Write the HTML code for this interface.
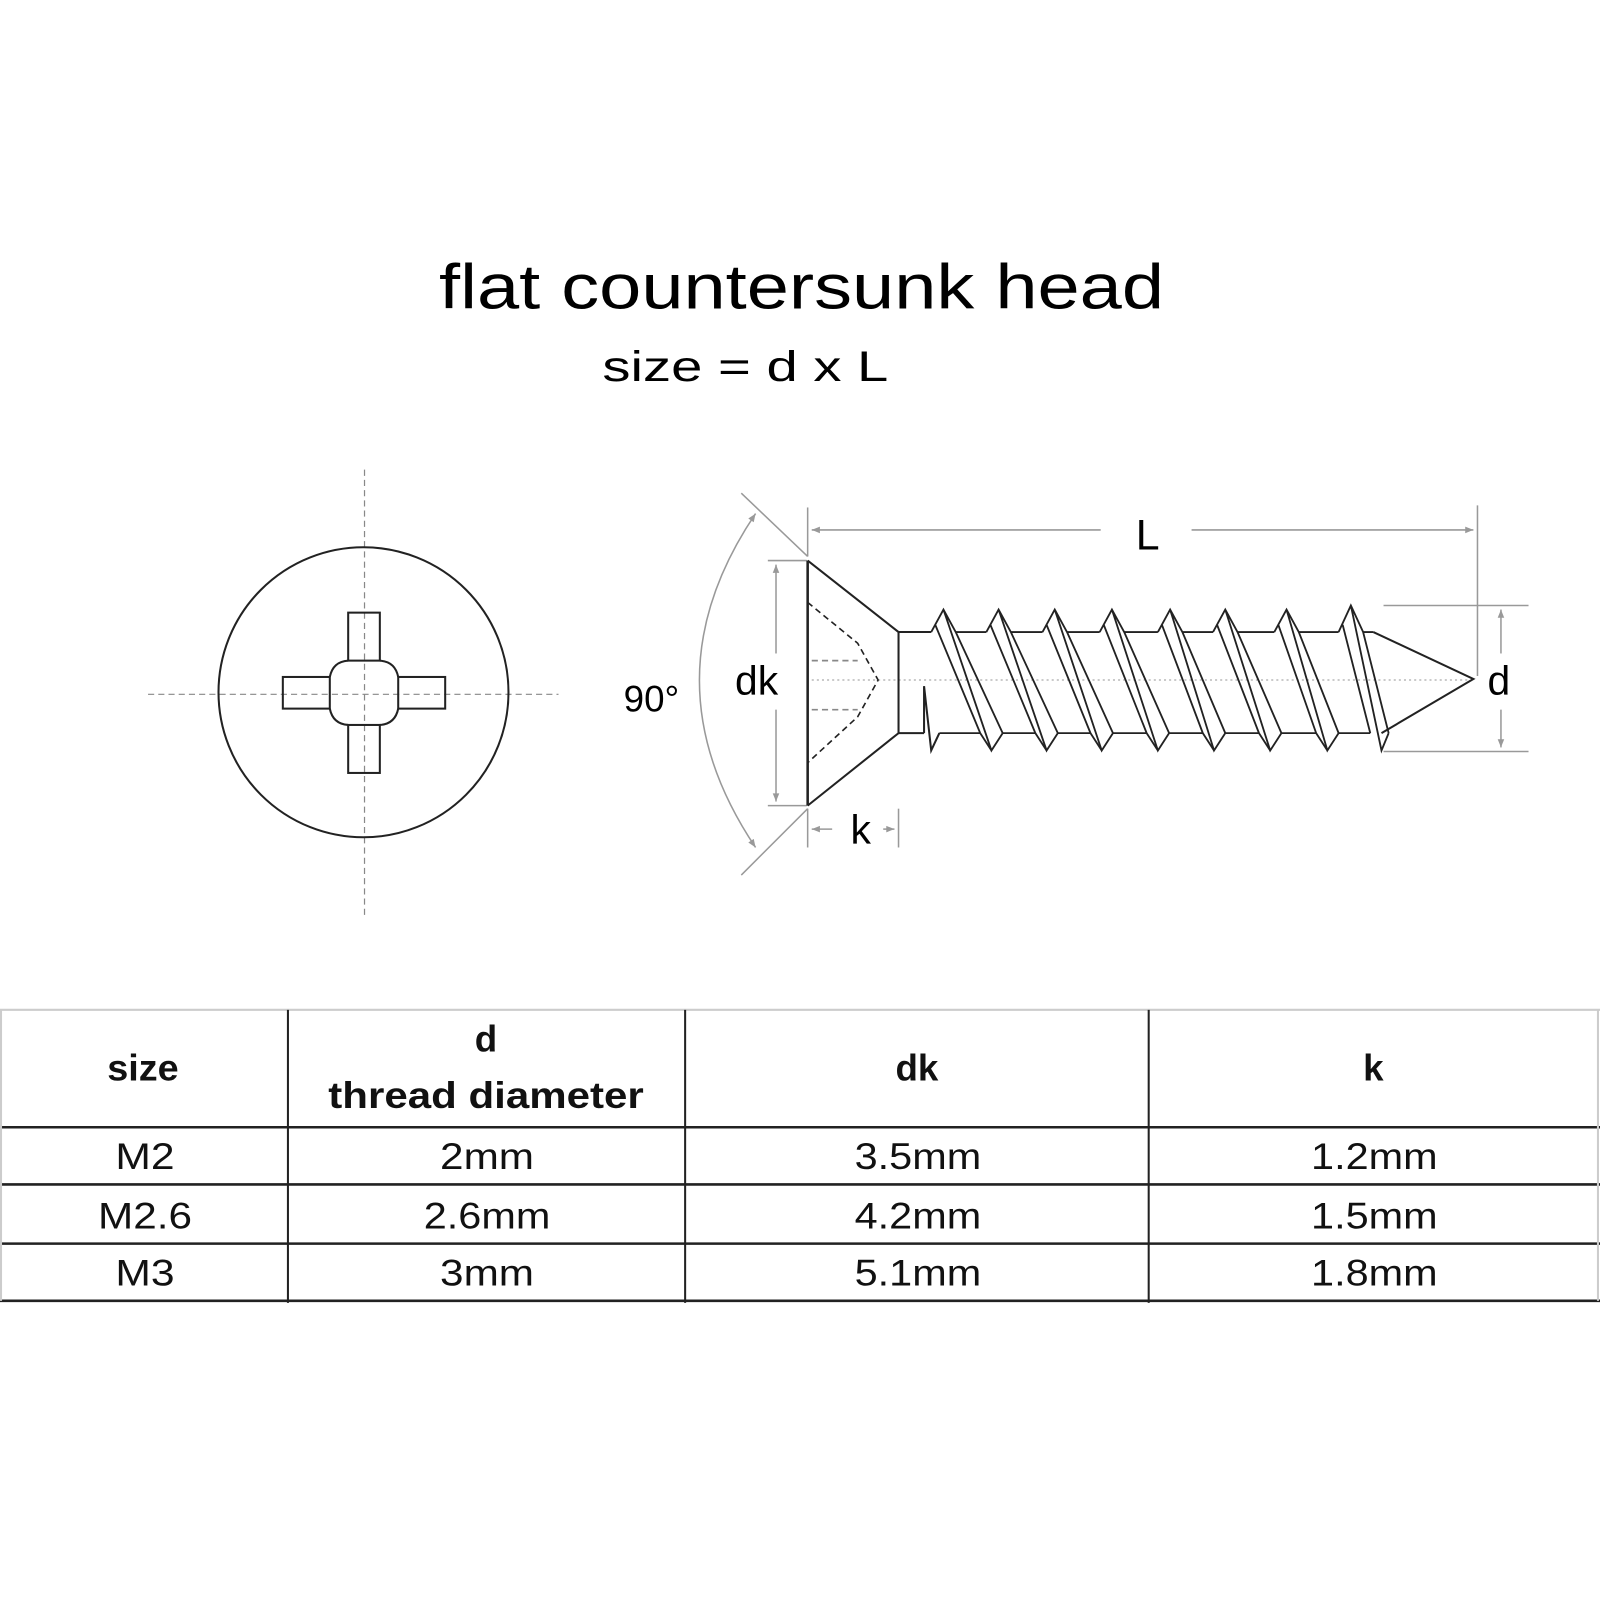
<!DOCTYPE html>
<html><head><meta charset="utf-8"><style>html,body{margin:0;padding:0;background:#fff}svg{display:block}</style></head>
<body>
<svg width="1600" height="1600" viewBox="0 0 1567 1567" xmlns="http://www.w3.org/2000/svg" font-family="Liberation Sans, sans-serif">
<defs>
<marker id="ar" viewBox="0 0 10 10" refX="10" refY="5" markerWidth="12" markerHeight="8" orient="auto-start-reverse" markerUnits="userSpaceOnUse"><path d="M0,1 L10,5 L0,9 Z" fill="#999"/></marker>
</defs>
<text x="785" y="302" font-size="62" text-anchor="middle" textLength="710" lengthAdjust="spacingAndGlyphs">flat countersunk head</text>
<text x="730" y="373" font-size="42" text-anchor="middle" textLength="280" lengthAdjust="spacingAndGlyphs">size = d x L</text>

<g stroke="#888" stroke-width="1.2" stroke-dasharray="6,4" fill="none">
<line x1="145" y1="680" x2="547" y2="680"/>
<line x1="357" y1="460" x2="357" y2="897"/>
</g>
<circle cx="356" cy="678" r="142" fill="none" stroke="#222" stroke-width="2"/>
<g fill="none" stroke="#222" stroke-width="2">
<rect x="341" y="600" width="31" height="47"/>
<rect x="341" y="710" width="31" height="47"/>
<rect x="277" y="663" width="46" height="31"/>
<rect x="390" y="663" width="46" height="31"/>
<path d="M341,647 Q326,648 323,663 M372,647 Q387,648 390,663 M341,710 Q326,709 323,694 M372,710 Q387,709 390,694"/>
</g>

<g stroke="#999" stroke-width="1.5" fill="none">
<line x1="791" y1="497" x2="791" y2="545"/>
<line x1="1447" y1="495" x2="1447" y2="662"/>
<line x1="795" y1="519" x2="1078" y2="519" marker-start="url(#ar)"/>
<line x1="1167" y1="519" x2="1443" y2="519" marker-end="url(#ar)"/>
<line x1="752" y1="549" x2="790" y2="549"/>
<line x1="752" y1="789" x2="790" y2="789"/>
<line x1="760" y1="553" x2="760" y2="640" marker-start="url(#ar)"/>
<line x1="760" y1="695" x2="760" y2="785" marker-end="url(#ar)"/>
<line x1="1355" y1="593" x2="1497" y2="593"/>
<line x1="1355" y1="736" x2="1497" y2="736"/>
<line x1="1470" y1="597" x2="1470" y2="640" marker-start="url(#ar)"/>
<line x1="1470" y1="695" x2="1470" y2="732" marker-end="url(#ar)"/>
<line x1="791" y1="792" x2="791" y2="830"/>
<line x1="880" y1="792" x2="880" y2="830"/>
<line x1="795" y1="812" x2="815" y2="812" marker-start="url(#ar)"/>
<line x1="865" y1="812" x2="876" y2="812" marker-end="url(#ar)"/>
<line x1="726" y1="483" x2="791" y2="545"/>
<line x1="726" y1="857" x2="791" y2="792"/>
<path d="M740,503 Q630,666 740,830" marker-start="url(#ar)" marker-end="url(#ar)"/>
</g>
<line x1="795" y1="666" x2="1440" y2="666" stroke="#aaa" stroke-width="1.2" stroke-dasharray="2,3"/>
<g stroke="#222" stroke-width="1.6" fill="none" stroke-dasharray="6,4">
<path d="M791,590 L840,630 L860,666 L840,702 L791,747"/>
<line x1="795" y1="647" x2="840" y2="647" stroke="#888"/>
<line x1="795" y1="695" x2="840" y2="695" stroke="#888"/>
</g>
<g stroke="#222" stroke-width="2" fill="none" stroke-linejoin="miter">
<line x1="791" y1="549" x2="791" y2="789" stroke-width="2.5"/>
<path d="M791,549 L880,619 L880,718 L791,789"/>
<line x1="880" y1="619" x2="912" y2="619"/>
<line x1="880" y1="718" x2="905" y2="718"/>
<path d="M905,672 L912,735 L920,718 M905,672 L905,718"/>
<path d="M1345,619 L1443,665 L1353,718"/>
</g>
<text x="1124" y="538" font-size="42" text-anchor="middle">L</text>
<text x="741" y="680" font-size="40" text-anchor="middle">dk</text>
<text x="1468" y="680" font-size="40" text-anchor="middle">d</text>
<text x="843" y="826" font-size="40" text-anchor="middle">k</text>
<text x="638" y="697" font-size="36" text-anchor="middle">90°</text>

<g stroke="#222" fill="none">
<line x1="0" y1="989" x2="1567" y2="989" stroke="#ccc" stroke-width="2"/>
<line x1="0" y1="1104" x2="1567" y2="1104" stroke-width="2.5"/>
<line x1="0" y1="1160" x2="1567" y2="1160" stroke-width="2.5"/>
<line x1="0" y1="1218" x2="1567" y2="1218" stroke-width="2.5"/>
<line x1="0" y1="1274" x2="1567" y2="1274" stroke-width="2.5"/>
<line x1="1" y1="989" x2="1" y2="1274" stroke="#ccc" stroke-width="2"/>
<line x1="1565" y1="989" x2="1565" y2="1274" stroke="#ccc" stroke-width="2"/>
<line x1="282" y1="989" x2="282" y2="1276" stroke-width="2"/>
<line x1="671" y1="989" x2="671" y2="1276" stroke-width="2"/>
<line x1="1125" y1="989" x2="1125" y2="1276" stroke-width="2"/>
</g>
<g font-family="Liberation Sans Narrow, Liberation Sans, sans-serif" text-anchor="middle" fill="#111">
<g font-weight="bold" font-size="36">
<text x="140" y="1058" textLength="70" lengthAdjust="spacingAndGlyphs">size</text>
<text x="476" y="1030">d</text>
<text x="476" y="1085" textLength="309" lengthAdjust="spacingAndGlyphs">thread diameter</text>
<text x="898" y="1058">dk</text>
<text x="1345" y="1058">k</text>
</g>
<g font-size="36">
<text x="142" y="1145" textLength="58" lengthAdjust="spacingAndGlyphs">M2</text>
<text x="477" y="1145" textLength="92" lengthAdjust="spacingAndGlyphs">2mm</text>
<text x="899" y="1145" textLength="124" lengthAdjust="spacingAndGlyphs">3.5mm</text>
<text x="1346" y="1145" textLength="124" lengthAdjust="spacingAndGlyphs">1.2mm</text>
<text x="142" y="1203" textLength="92" lengthAdjust="spacingAndGlyphs">M2.6</text>
<text x="477" y="1203" textLength="124" lengthAdjust="spacingAndGlyphs">2.6mm</text>
<text x="899" y="1203" textLength="124" lengthAdjust="spacingAndGlyphs">4.2mm</text>
<text x="1346" y="1203" textLength="124" lengthAdjust="spacingAndGlyphs">1.5mm</text>
<text x="142" y="1259" textLength="58" lengthAdjust="spacingAndGlyphs">M3</text>
<text x="477" y="1259" textLength="92" lengthAdjust="spacingAndGlyphs">3mm</text>
<text x="899" y="1259" textLength="124" lengthAdjust="spacingAndGlyphs">5.1mm</text>
<text x="1346" y="1259" textLength="124" lengthAdjust="spacingAndGlyphs">1.8mm</text>
</g>
</g>

<g stroke="#222" stroke-width="1.8" fill="none">
<path d="M912,619 L924,597 L936,619 M916,612 L960,718 M924,597 L971,735 L982,718 M936,619 L982,718"/>
<path d="M966,619 L978,597 L990,619 M970,612 L1014,718 M978,597 L1025,735 L1036,718 M990,619 L1036,718 M960,718 L971,735"/>
<path d="M1021,619 L1033,597 L1045,619 M1025,612 L1068,718 M1033,597 L1079,735 L1090,718 M1045,619 L1090,718 M1014,718 L1025,735"/>
<path d="M1077,619 L1089,597 L1101,619 M1081,612 L1123,718 M1089,597 L1134,735 L1145,718 M1101,619 L1145,718 M1068,718 L1079,735"/>
<path d="M1134,619 L1146,597 L1158,619 M1138,612 L1178,718 M1146,597 L1189,735 L1200,718 M1158,619 L1200,718 M1123,718 L1134,735"/>
<path d="M1188,619 L1200,597 L1212,619 M1192,612 L1233,718 M1200,597 L1244,735 L1255,718 M1212,619 L1255,718 M1178,718 L1189,735"/>
<path d="M1248,619 L1260,597 L1272,619 M1252,612 L1289,718 M1260,597 L1300,735 L1311,718 M1272,619 L1311,718 M1233,718 L1244,735"/>
<path d="M1311,619 L1323,593 L1335,619 M1315,612 L1342,718 M1323,593 L1353,735 L1360,718 M1335,619 L1360,718 M1289,718 L1300,735"/>
<path d="M936,619 L966,619 M990,619 L1021,619 M1045,619 L1077,619 M1101,619 L1134,619 M1158,619 L1188,619 M1212,619 L1248,619 M1272,619 L1311,619 M1335,619 L1345,619"/>
<path d="M920,718 L960,718 M982,718 L1014,718 M1036,718 L1068,718 M1090,718 L1123,718 M1145,718 L1178,718 M1200,718 L1233,718 M1255,718 L1289,718 M1311,718 L1342,718"/>
</g>
</svg>
</body></html>
